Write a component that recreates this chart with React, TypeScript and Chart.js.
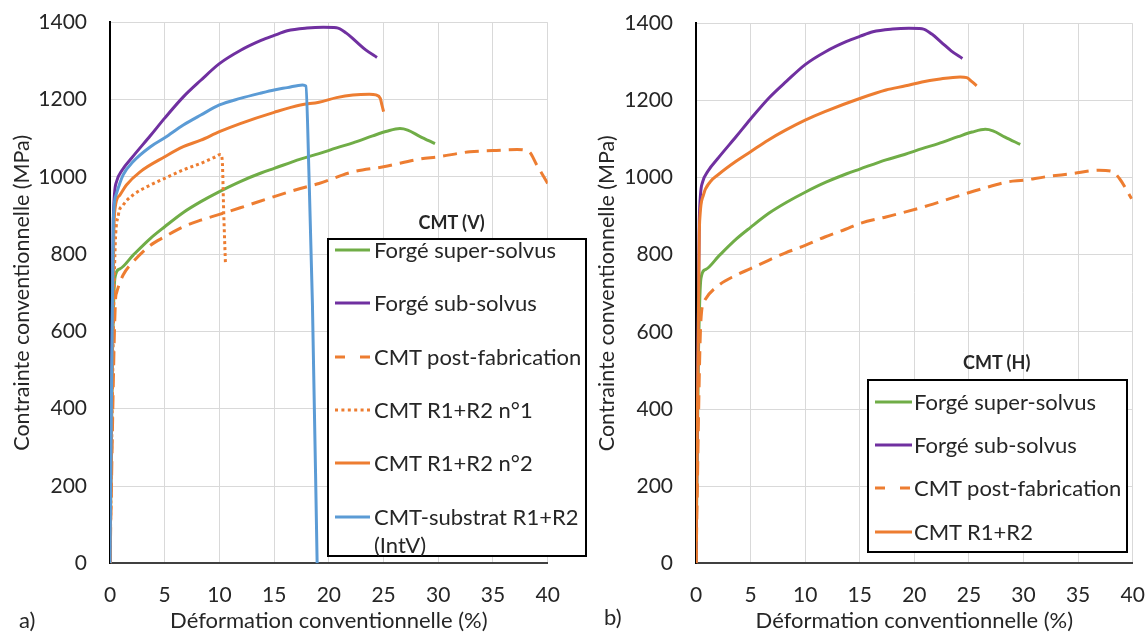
import React, { useEffect, useRef } from "react";
import { Chart, registerables } from "chart.js";

Chart.register(...registerables);

// ---------- Data (strain %, stress MPa) ----------
const superSolvusStrain = [0, 0.2, 0.46, 0.9, 2.1, 3.7, 5, 6.7, 8.3, 10, 11.9, 13.8, 15, 17.4, 19.1, 20.7, 22.2, 24.0, 25.3, 26.5, 27.2, 28.3, 29.7];
const superSolvusStress = [0, 500, 740, 762, 797, 841, 871, 908, 936, 962, 988, 1010, 1022, 1046, 1060, 1075, 1088, 1106, 1118, 1125, 1121, 1105, 1086];

const subSolvusStrain = [0, 0.3, 0.6, 1.1, 2.1, 3.7, 5, 6.7, 8.3, 10, 11.9, 13.8, 15, 16.2, 18, 19.5, 20.7, 21.6, 22.5, 23.4, 24.4];
const subSolvusStress = [0, 890, 988, 1017, 1053, 1107, 1152, 1207, 1250, 1293, 1327, 1353, 1366, 1378, 1385, 1387, 1386, 1372, 1350, 1328, 1309];

// CMT (V)
const postFabVStrain = [0, 0.5, 0.6, 1.2, 2.1, 3.7, 5, 6.7, 8.3, 10, 11.9, 15, 17.4, 19.1, 22.2, 25, 28.3, 30, 32.9, 35, 37.2, 38.3, 39.0, 40];
const postFabVStress = [0, 680, 700, 746, 780, 823, 845, 871, 888, 903, 920, 949, 970, 983, 1013, 1026, 1046, 1052, 1065, 1068, 1071, 1065, 1031, 983];

const r1r2n1Strain = [0, 0.45, 0.76, 1.2, 2.1, 3.7, 5, 6.7, 8.3, 9.5, 10.1, 10.25, 10.4, 10.55];
const r1r2n1Stress = [0, 800, 901, 927, 953, 979, 996, 1018, 1035, 1050, 1058, 1045, 900, 776];

const r1r2n2Strain = [0, 0.35, 0.46, 0.9, 1.5, 2.75, 5, 6.7, 8.3, 10, 11.9, 15, 17.4, 19.1, 20.7, 22.2, 23.7, 24.3, 24.7, 24.85, 25.0];
const r1r2n2Stress = [0, 850, 918, 953, 979, 1013, 1052, 1078, 1095, 1117, 1138, 1167, 1186, 1193, 1205, 1212, 1214, 1212, 1203, 1186, 1169];

const substratStrain = [0, 0.3, 0.55, 1.2, 2.1, 3.7, 5, 6.7, 8.3, 10, 11.9, 13.8, 15, 16.2, 17.6, 17.9, 18.2, 18.5, 18.93];
const substratStress = [0, 884, 953, 1005, 1039, 1078, 1101, 1134, 1160, 1186, 1203, 1217, 1225, 1231, 1238, 1235, 990, 670, 0];

// CMT (H)
const postFabHStrain = [0, 0.45, 0.8, 2.05, 3.6, 5, 6.6, 8.2, 10, 11.8, 13.7, 15, 17.4, 19.2, 21.3, 23.75, 26.2, 28.6, 30, 32, 34.4, 36.9, 38.1, 38.8, 39.9];
const postFabHStress = [0, 630, 682, 720, 746, 764, 785, 805, 824, 846, 866, 881, 898, 911, 928, 950, 971, 989, 993, 1002, 1010, 1019, 1016, 997, 945];

const r1r2HStrain = [0, 0.3, 0.37, 0.67, 1.3, 2.05, 3.6, 5, 6.6, 8.2, 10, 11.8, 15, 17.4, 19.2, 20.7, 22.2, 24.2, 24.8, 25.3, 25.7];
const r1r2HStress = [0, 850, 902, 954, 989, 1008, 1041, 1067, 1097, 1123, 1149, 1171, 1205, 1227, 1238, 1248, 1255, 1261, 1259, 1248, 1238];

// Axis ticks
const xMin = 0, xMax = 40, xStep = 5;
const yMin = 0, yMax = 1400, yStep = 200;

const xTitle = "Déformation conventionnelle (%)";
const yTitle = "Contrainte conventionnelle (MPa)";

const leftLabels = ["Forgé super-solvus", "Forgé sub-solvus", "CMT post-fabrication", "CMT R1+R2 n°1", "CMT R1+R2 n°2", "CMT-substrat R1+R2\n(IntV)"];
const rightLabels = ["Forgé super-solvus", "Forgé sub-solvus", "CMT post-fabrication", "CMT R1+R2"];

const GREEN = "#70AD47";
const PURPLE = "#7030A0";
const ORANGE = "#ED7D31";
const BLUE = "#5B9BD5";

const FONT = "Lato, 'Open Sans', sans-serif";
const TEXT = "#262626";

const DASH = [14, 8];
const DOT = [3, 3];

function toXY(xs: number[], ys: number[]) {
  return xs.map((x, i) => ({ x, y: ys[i] }));
}

function ds(label: string, xs: number[], ys: number[], color: string, dash: number[] | null, order: number) {
  return {
    label,
    data: toXY(xs, ys),
    borderColor: color,
    backgroundColor: color,
    borderWidth: 3,
    borderDash: dash || [],
    pointRadius: 0,
    fill: false,
    cubicInterpolationMode: "monotone" as const,
    borderJoinStyle: "round" as const,
    order,
  };
}

function makeOptions(areaLeft: number, padRight: number, padTop: number, yTitlePad: number) {
  return {
    animation: false as const,
    responsive: false,
    maintainAspectRatio: false,
    layout: { padding: { top: padTop, right: padRight, bottom: 0, left: 0 } },
    plugins: { legend: { display: false }, tooltip: { enabled: false } },
    scales: {
      x: {
        type: "linear" as const,
        min: xMin,
        max: xMax,
        ticks: { stepSize: xStep, font: { family: FONT, size: 21 }, color: TEXT, padding: 19, maxRotation: 0 },
        grid: { color: "#D9D9D9", lineWidth: 1, drawTicks: false },
        border: { display: true, color: "#404040", width: 2 },
        title: { display: true, text: xTitle, font: { family: FONT, size: 22 }, color: TEXT, padding: { top: 0, bottom: -1 } },
        afterFit: (s: any) => { s.height = 633 - 563.3; s.paddingLeft = 0; s.paddingRight = 0; },
      },
      y: {
        type: "linear" as const,
        min: yMin,
        max: yMax,
        ticks: { stepSize: yStep, font: { family: FONT, size: 21 }, color: TEXT, padding: 23, callback: (v: any) => String(v) },
        grid: { color: "#D9D9D9", lineWidth: 1, drawTicks: false },
        border: { display: true, color: "#000000", width: 2 },
        title: { display: true, text: yTitle, font: { family: FONT, size: 21.5 }, color: TEXT, padding: { top: yTitlePad, bottom: 0 } },
        afterFit: (s: any) => { s.width = areaLeft; s.paddingTop = 0; s.paddingBottom = 0; },
      },
    },
  };
}

function Legend(props: { left: number; top: number; width: number; height: number; rowTop: number; rowStep: number; sampleX: number; sampleW: number; textX: number; labels: string[]; colors: string[]; dashes: (string | null)[] }) {
  const { left, top, width, height, rowTop, rowStep, sampleX, sampleW, textX, labels, colors, dashes } = props;
  return (
    <div style={{ position: "absolute", left, top, width, height, boxSizing: "border-box", border: "2px solid #000", background: "#fff" }}>
      {labels.map((lab, i) => {
        const cy = rowTop + i * rowStep - 2;
        return (
          <React.Fragment key={i}>
            <svg width={sampleW} height={6} style={{ position: "absolute", left: sampleX - 2, top: cy - 3 }}>
              <line x1={0} y1={3} x2={sampleW} y2={3} stroke={colors[i]} strokeWidth={3} strokeDasharray={dashes[i] || undefined} />
            </svg>
            <div style={{ position: "absolute", left: textX - 2, top: cy - 14, lineHeight: "28px", fontSize: 22, fontFamily: FONT, color: TEXT, whiteSpace: "pre" }}>{lab}</div>
          </React.Fragment>
        );
      })}
    </div>
  );
}

export default function App() {
  const leftRef = useRef<HTMLCanvasElement | null>(null);
  const rightRef = useRef<HTMLCanvasElement | null>(null);

  useEffect(() => {
    const leftData = [
      ds(leftLabels[0], superSolvusStrain, superSolvusStress, GREEN, null, 6),
      ds(leftLabels[1], subSolvusStrain, subSolvusStress, PURPLE, null, 5),
      ds(leftLabels[2], postFabVStrain, postFabVStress, ORANGE, DASH, 4),
      ds(leftLabels[3], r1r2n1Strain, r1r2n1Stress, ORANGE, DOT, 3),
      ds(leftLabels[4], r1r2n2Strain, r1r2n2Stress, ORANGE, null, 2),
      ds(leftLabels[5], substratStrain, substratStress, BLUE, null, 1),
    ];
    const rightData = [
      ds(rightLabels[0], superSolvusStrain, superSolvusStress, GREEN, null, 4),
      ds(rightLabels[1], subSolvusStrain, subSolvusStress, PURPLE, null, 3),
      ds(rightLabels[2], postFabHStrain, postFabHStress, ORANGE, DASH, 2),
      ds(rightLabels[3], r1r2HStrain, r1r2HStress, ORANGE, null, 1),
    ];
    const lo: any = makeOptions(110, 580 - 547.7, 22.3, 9);
    const ro: any = makeOptions(116, 566 - 552.7, 23.3, 14);
    const c1 = new Chart(leftRef.current!, { type: "line", data: { datasets: leftData as any }, options: lo });
    const c2 = new Chart(rightRef.current!, { type: "line", data: { datasets: rightData as any }, options: ro });
    return () => { c1.destroy(); c2.destroy(); };
  }, []);

  return (
    <div style={{ position: "absolute", left: 0, top: 0, width: 1146, height: 633, background: "#fff", overflow: "hidden", fontFamily: FONT }}>
      <canvas ref={leftRef} width={580} height={633} style={{ position: "absolute", left: 0, top: 0, width: 580, height: 633 }} />
      <canvas ref={rightRef} width={566} height={633} style={{ position: "absolute", left: 580, top: 0, width: 566, height: 633 }} />

      <div style={{ position: "absolute", left: 451.7 - 60, width: 120, top: 222 - 12, lineHeight: "24px", textAlign: "center", fontWeight: 700, fontSize: 18, fontFamily: FONT, color: TEXT }}>CMT (V)</div>
      <Legend left={326.7} top={238} width={260.3} height={319} rowTop={12} rowStep={53.3} sampleX={8.3} sampleW={35} textX={47.3}
        labels={leftLabels} colors={[GREEN, PURPLE, ORANGE, ORANGE, ORANGE, BLUE]} dashes={[null, null, "10 15", "3 3.4", null, null]} />

      <div style={{ position: "absolute", left: 996.7 - 60, width: 120, top: 361.7 - 12, lineHeight: "24px", textAlign: "center", fontWeight: 700, fontSize: 18, fontFamily: FONT, color: TEXT }}>CMT (H)</div>
      <Legend left={866.7} top={379.3} width={261.6} height={174} rowTop={22.4} rowStep={43.3} sampleX={8.3} sampleW={37} textX={47.3}
        labels={rightLabels} colors={[GREEN, PURPLE, ORANGE, ORANGE]} dashes={[null, null, "10 15", null]} />

      <div style={{ position: "absolute", left: 19, top: 620 - 14, lineHeight: "28px", fontSize: 22, fontFamily: FONT, color: TEXT }}>a)</div>
      <div style={{ position: "absolute", left: 604, top: 617 - 14, lineHeight: "28px", fontSize: 22, fontFamily: FONT, color: TEXT }}>b)</div>
    </div>
  );
}
